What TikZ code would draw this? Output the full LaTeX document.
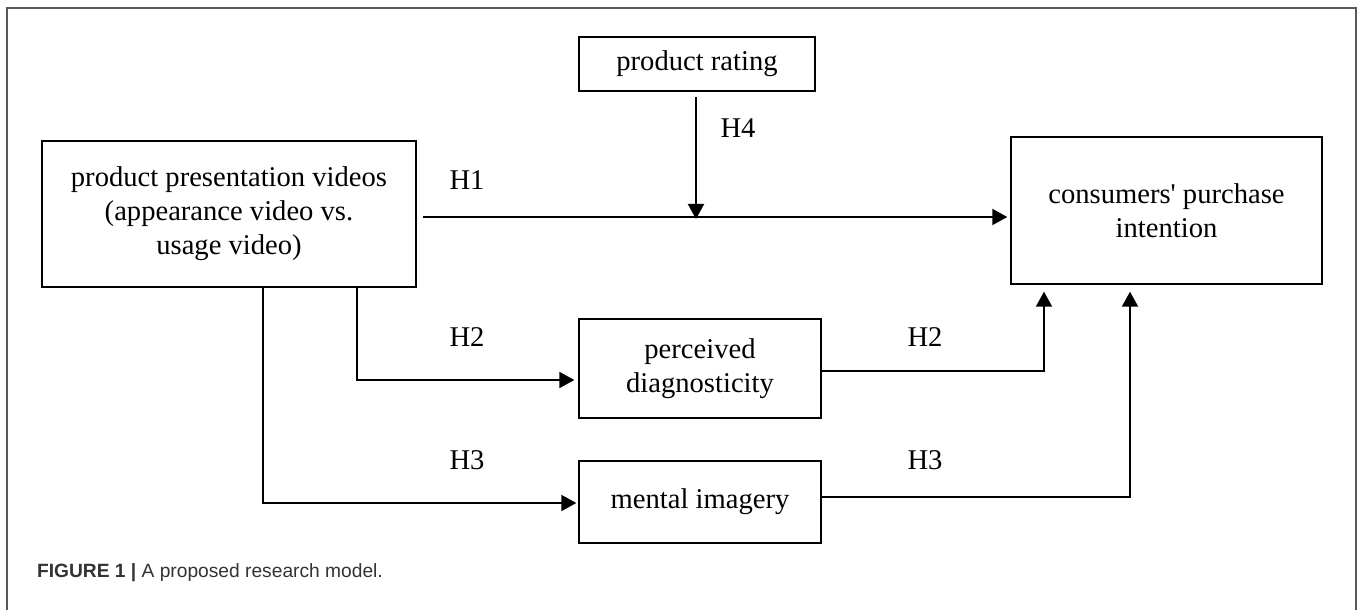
\documentclass[tikz,border=0pt]{standalone}
\usepackage{fontspec}
\setmainfont{Liberation Serif}
\setsansfont{Liberation Sans}
\usetikzlibrary{arrows.meta}

\tikzset{
	box/.style={draw, line width=0.7pt, align=center, inner sep=0pt, font=\fontsize{14.3}{17}\selectfont},
	arr/.style={line width=1pt, -{Triangle[length=7.5pt,width=8pt]}},
	hyp/.style={font=\fontsize{14.3}{17}\selectfont}
}

\begin{document}
\begin{tikzpicture}[x=0.5pt, y=-0.5pt]
		%%%%% FRAME %%%%%
		\useasboundingbox (0, 0) rectangle (1357, 610);
		\draw[line width=1.2pt, black!65] (7, 612) -- (7, 8) -- (1356, 8) -- (1356, 612);
		\node[anchor=west, font=\sffamily\fontsize{9.6}{11}\selectfont, text=black!80] (caption) at (30, 573) {\textbf{FIGURE 1 |} A proposed research model.};
		
		%%%%% BOXES %%%%%
		\node[box, minimum width=187pt, minimum height=73pt] (videos) at (229, 214) {product presentation videos\\(appearance video vs.\\usage video)};
		\node[box, minimum width=118pt, minimum height=27pt] (rating) at (697, 64) {product rating};
		\node[box, minimum width=155.5pt, minimum height=73.5pt] (intent) at (1166.5, 210.5) {consumers\textquotesingle{} purchase\\intention};
		\node[box, minimum width=121pt, minimum height=49.5pt] (diag) at (700, 368.5) {perceived\\diagnosticity};
		\node[box, minimum width=121pt, minimum height=41pt] (imag) at (700, 502) {mental imagery};
		
		%%%%% ARROWS %%%%%
		\coordinate (h1start) at (423, 217);
		\coordinate (h4start) at (696, 97);
		\draw[arr, shorten >=1.5pt] (h1start) -- (h1start -| intent.west);
		\draw[arr] (h4start) -- (696, 219);
		
		\draw[arr, shorten >=2pt] (videos.south -| 357, 0) |- (diag.west |- 0, 380);
		\draw[arr, shorten >=1pt] (videos.south -| 263, 0) |- (imag.west |- 0, 503);
		\draw[arr, shorten >=3.5pt] (diag.east |- 0, 371) -| (intent.south -| 1044, 0);
		\draw[arr, shorten >=3.5pt] (imag.east |- 0, 497) -| (intent.south -| 1130, 0);
		
		%%%%% LABELS %%%%%
		\node[hyp] (lh1) at (467, 180) {H1};
		\node[hyp] (lh4) at (738, 128) {H4};
		\node[hyp] (lh2a) at (467, 337) {H2};
		\node[hyp] (lh2b) at (925, 337) {H2};
		\node[hyp] (lh3a) at (467, 460) {H3};
		\node[hyp] (lh3b) at (925, 460) {H3};
	\end{tikzpicture}
\end{document}
